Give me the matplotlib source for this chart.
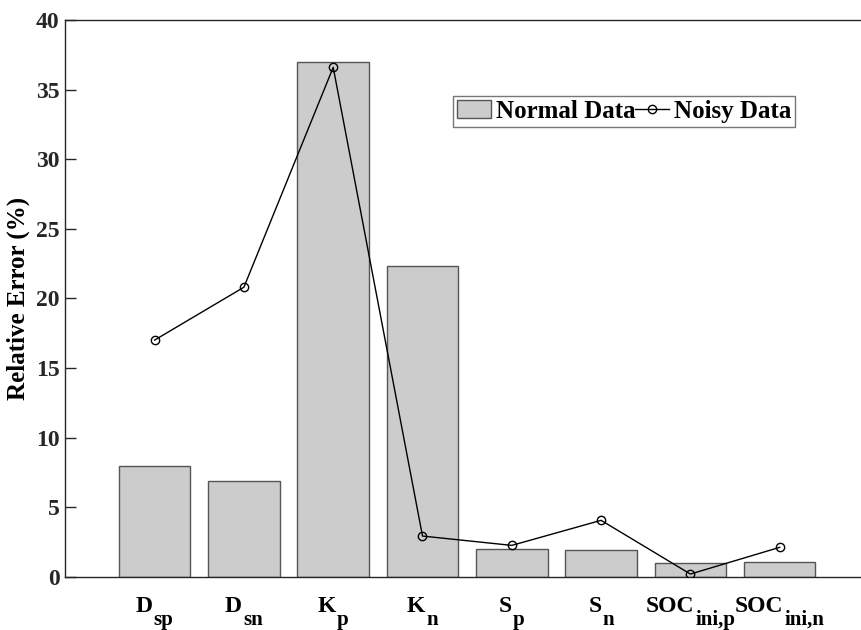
import matplotlib
matplotlib.use("Agg")
import matplotlib.pyplot as plt
from matplotlib.transforms import offset_copy
import numpy as np

label_main = ["D", "D", "K", "K", "S", "S", "SOC", "SOC"]
label_sub = ["sp", "sn", "p", "n", "p", "n", "ini,p", "ini,n"]
normal_data = [7.97, 6.9, 37.0, 22.34, 1.97, 1.9, 0.96, 1.03]
noisy_data = [17.0, 20.8, 36.6, 2.92, 2.25, 4.05, 0.19, 2.11]
yticks = [0, 5, 10, 15, 20, 25, 30, 35, 40]

plt.rcParams['font.family'] = ['Liberation Serif', 'DejaVu Serif']
plt.rcParams['font.weight'] = 'bold'

fig = plt.figure(figsize=(8.61, 6.30), dpi=100)
ax = fig.add_axes([65.3 / 861, 53.3 / 630, 9 * 89.3 / 861, 556.7 / 630])

x = np.arange(1, len(label_main) + 1)
axcol = '#262626'
bars = ax.bar(x, normal_data, width=0.8, color='#cccccc', edgecolor='#555555',
              linewidth=1.0, label='Normal Data', zorder=2)
line, = ax.plot(x, noisy_data, color='black', linewidth=1.0, marker='o', markersize=6,
                markerfacecolor='none', markeredgecolor='black', markeredgewidth=1.0,
                label='Noisy Data', zorder=3)

ax.set_xlim(0, 9)
ax.set_ylim(0, 40)
ax.set_yticks(yticks)
ax.set_yticklabels([str(v) for v in yticks], fontsize=17, fontweight='bold')
ax.set_xticks(x)
ax.set_xticklabels([])
ax.tick_params(axis='x', length=0, colors=axcol)
ax.tick_params(axis='y', direction='in', length=8, width=1, colors=axcol, pad=4)

for s in ['left', 'bottom', 'top', 'right']:
    ax.spines[s].set_color(axcol)
    ax.spines[s].set_linewidth(1.0)

ax.set_ylabel('Relative Error (%)', fontsize=18, fontweight='bold', labelpad=4)

# category labels with MATLAB-like subscripts
renderer = fig.canvas.get_renderer()
trans = ax.get_xaxis_transform()
main_size, sub_size = 17, 15
main_base = 577 - 612   # px offset of main baseline from axis bottom
sub_base = 577 - 625
for xi, m, sb in zip(x, label_main, label_sub):
    t1 = ax.text(xi, 0, m, transform=trans, ha='left', va='baseline',
                 fontsize=main_size, fontweight='bold', clip_on=False)
    t2 = ax.text(xi, 0, sb, transform=trans, ha='left', va='baseline',
                 fontsize=sub_size, fontweight='bold', clip_on=False)
    w1 = t1.get_window_extent(renderer).width
    w2 = t2.get_window_extent(renderer).width
    tot = w1 + w2 + 1
    t1.set_transform(offset_copy(trans, fig=fig, x=-tot / 2, y=main_base, units='dots'))
    t2.set_transform(offset_copy(trans, fig=fig, x=-tot / 2 + w1 + 1, y=sub_base, units='dots'))

leg = ax.legend(handles=[bars, line], labels=['Normal Data', 'Noisy Data'],
                loc='upper left', bbox_to_anchor=(453 / 861, 1 - 96 / 630),
                bbox_transform=fig.transFigure, borderaxespad=0, ncol=2,
                fancybox=False, frameon=True, edgecolor='#777777',
                prop={'family': 'Liberation Serif', 'weight': 'bold', 'size': 18},
                handlelength=1.35, handletextpad=0.2, columnspacing=0.0,
                borderpad=0.15, framealpha=1)
leg.get_frame().set_linewidth(1.0)

fig.savefig('out.png', dpi=100)
